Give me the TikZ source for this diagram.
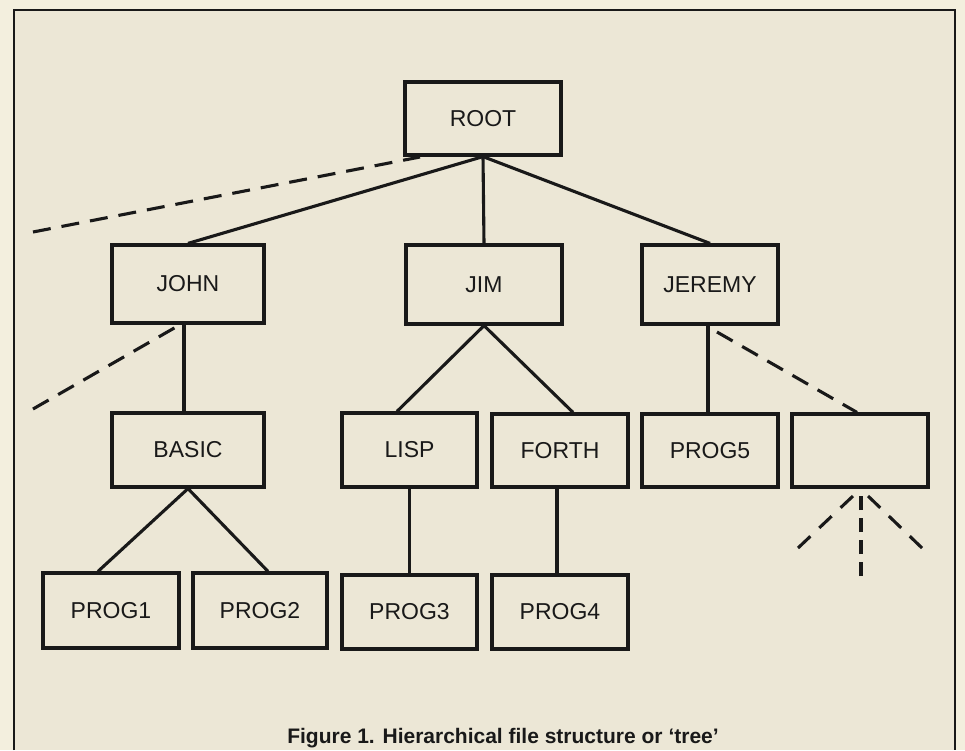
\documentclass[tikz,border=0pt]{standalone}
\usepackage{fontspec}
\setmainfont{Liberation Sans}
\begin{document}
\begin{tikzpicture}[x=1pt,y=-1pt,
  box/.style={draw=black!90, line width=3.2pt, fill=none, inner sep=0pt,
    font=\fontsize{23}{27}\selectfont, text=black!90},
  link/.style={draw=black!90, line width=3.1pt},
  dlink/.style={draw=black!90, line width=3.1pt, dash pattern=on 18pt off 11pt},
  frameline/.style={draw=black!90, line width=2.8pt}]
\definecolor{paper}{RGB}{236,231,214}
\definecolor{outer}{RGB}{243,239,222}
\useasboundingbox (0,0) rectangle (965,750);
\fill[outer] (0,0) rectangle (965,750);
\fill[paper] (14,10) rectangle (955,750);
\draw[frameline] (14,750) -- (14,10) -- (955,10) -- (955,750);

\node[box, minimum width=156pt, minimum height=73pt] (root) at (483,118.5) {ROOT};
\node[box, minimum width=152pt, minimum height=78pt] (john) at (188,284) {JOHN};
\node[box, minimum width=156pt, minimum height=79pt] (jim) at (484,284.5) {JIM};
\node[box, minimum width=136pt, minimum height=79pt] (jeremy) at (710,284.5) {JEREMY};
\node[box, minimum width=152pt, minimum height=74pt] (basic) at (188,450) {BASIC};
\node[box, minimum width=135pt, minimum height=74pt] (lisp) at (409.5,450) {LISP};
\node[box, minimum width=136pt, minimum height=73pt] (forth) at (560,450.5) {FORTH};
\node[box, minimum width=136pt, minimum height=73pt] (prog5) at (710,450.5) {PROG5};
\node[box, minimum width=136pt, minimum height=73pt] (empty) at (860,450.5) {};
\node[box, minimum width=136pt, minimum height=75pt] (prog1) at (111,610.5) {PROG1};
\node[box, minimum width=134pt, minimum height=75pt] (prog2) at (260,610.5) {PROG2};
\node[box, minimum width=135pt, minimum height=74pt] (prog3) at (409.5,612) {PROG3};
\node[box, minimum width=136pt, minimum height=74pt] (prog4) at (560,612) {PROG4};

% free ends of dashed connectors
\coordinate (rootd) at (420,157);
\coordinate (rootfree) at (33,232);
\coordinate (johnd) at (176,327);
\coordinate (johnfree) at (33,409);
\coordinate (jeremyd) at (717,332);
\coordinate (edl) at (853,496);
\coordinate (edm) at (861,496);
\coordinate (edr) at (868,496);
\coordinate (efl) at (798,548);
\coordinate (efm) at (861,576);
\coordinate (efr) at (922,548);

\draw[link] (root.south) -- (john.north);
\draw[link] (root.south) -- (jim.north);
\draw[link] (root.south) -- (jeremy.north);
\draw[dlink] (rootfree) -- (rootd);
\draw[link] (john.south -| 184,0) -- (basic.north -| 184,0);
\draw[dlink] (johnfree) -- (johnd);
\draw[link] (basic.south) -- (prog1.north -| 98,0);
\draw[link] (basic.south) -- (prog2.north -| 268,0);
\draw[link] (jim.south) -- (lisp.north -| 397,0);
\draw[link] (jim.south) -- (forth.north -| 573,0);
\draw[link] (lisp.south) -- (prog3.north);
\draw[link] (forth.south -| 557,0) -- (prog4.north -| 557,0);
\draw[link] (jeremy.south -| 708,0) -- (prog5.north -| 708,0);
\draw[dlink] (jeremyd) -- (empty.north -| 857,0);
\draw[dlink, dash pattern=on 17pt off 12.3pt] (efl) -- (edl);
\draw[dlink, dash pattern=on 14pt off 8pt] (efm) -- (edm);
\draw[dlink, dash pattern=on 17pt off 12pt] (efr) -- (edr);

\node[anchor=base, font=\bfseries\fontsize{21}{24}\selectfont, text=black!90] (cap) at (503,743)
  {Figure 1. Hierarchical file structure or ‘tree’};
\end{tikzpicture}
\end{document}
